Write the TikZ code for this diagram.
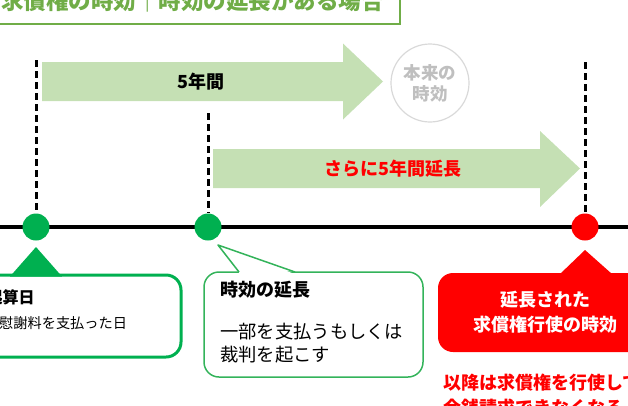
\documentclass[tikz,border=0pt]{standalone}
\usepackage{fontspec}
\setmainfont{Noto Sans CJK JP}
\definecolor{titlegreen}{HTML}{70AD47}
\definecolor{spangreen}{HTML}{C5E0B4}
\definecolor{dotgreen}{HTML}{00B050}
\definecolor{boxgreen}{HTML}{33B35A}
\definecolor{ringgray}{HTML}{D9D9D9}
\definecolor{textgray}{HTML}{BFBFBF}
\definecolor{alertred}{HTML}{FF0000}
\begin{document}
\begin{tikzpicture}[x=1pt,y=-1pt,
  dot/.style={circle,fill,inner sep=0pt,minimum size=27pt},
  guide/.style={draw,line width=3pt,dash pattern=on 7pt off 4pt},
  txt/.style={inner sep=0pt,anchor=west}]
\useasboundingbox (0,0) rectangle (628,405);
\clip (0,0) rectangle (628,405);

% title
\draw[titlegreen,line width=2pt] (-20,-30) rectangle (400,24);
\node[inner sep=0pt,anchor=base east,text=titlegreen,font=\fontsize{22.5}{26}\selectfont\bfseries] (title) at (384,9) {求償権の時効｜時効の延長がある場合};

% periods
\fill[spangreen] (42,62) -- (343,62) -- (343,43.5) -- (383,81.5) -- (343,119.5) -- (343,101) -- (42,101) -- cycle;
\node[font=\fontsize{18}{22}\selectfont\bfseries] (five) at (201,82) {5年間};
\fill[spangreen] (213,149) -- (540,149) -- (540,131) -- (580,168.5) -- (540,207) -- (540,188) -- (213,188) -- cycle;
\node[text=alertred,font=\fontsize{18}{22}\selectfont\bfseries] (extra) at (393,169) {さらに5年間延長};
\node[draw=ringgray,line width=1.2pt,circle,inner sep=0pt,minimum size=78pt,align=center,text=textgray,font=\fontsize{17.5}{21}\selectfont\bfseries] (orig) at (430,83) {本来の\\時効};

% timeline
\coordinate (lineL) at (0,227);
\coordinate (lineR) at (628,227);
\path[draw,line width=3.5pt] (lineL) -- (lineR);

\node[dot,dotgreen] (start) at (36,227) {};
\node[dot,dotgreen] (renew) at (208,227) {};
\node[dot,alertred] (expiry) at (585,227) {};

\coordinate (startTop) at (36,60);
\coordinate (renewTop) at (208,113);
\coordinate (expiryTop) at (585,62);
\path[guide] (startTop) -- (start);
\path[guide] (renewTop) -- (renew);
\path[guide] (expiryTop) -- (expiry);

% start box
\node[draw=dotgreen,line width=3pt,rounded corners=15pt,fill=white,minimum width=211pt,minimum height=82pt] (startbox) at (75.5,316) {};
\fill[dotgreen] (36,247) -- (62,276.5) -- (10,276.5) -- cycle;
\node[txt,font=\fontsize{16}{20}\selectfont\bfseries] (startlabel) at (-13.5,297) {起算日};
\node[txt,font=\fontsize{14.2}{18}\selectfont] (startnote) at (-1,323) {慰謝料を支払った日};

% renewal box
\node[draw=boxgreen,line width=1.5pt,rounded corners=15pt,minimum width=219pt,minimum height=105pt] (renewbox) at (313.5,324.5) {};
\fill[white] (218,245) -- (240,273.8) -- (294,273.8) -- cycle;
\draw[boxgreen,line width=1.5pt,line join=round] (239,272) -- (218,245) -- (295,272);
\node[txt,font=\fontsize{18}{22}\selectfont\bfseries] (renewlabel) at (220,290) {時効の延長};
\node[txt,font=\fontsize{18.3}{22}\selectfont] (renewnote1) at (220,332) {一部を支払うもしくは};
\node[txt,font=\fontsize{18.3}{22}\selectfont] (renewnote2) at (220,355) {裁判を起こす};

% expiry box
\node[fill=alertred,rounded corners=15pt,minimum width=214pt,minimum height=79pt] (expirybox) at (545,312.5) {};
\fill[alertred] (585,250) -- (612,274) -- (560,274) -- cycle;
\node[align=center,text=white,inner sep=0pt,font=\fontsize{18}{25}\selectfont\bfseries] (expirylabel) at (545,312.5) {延長された\\求償権行使の時効};
\node[txt,text=alertred,font=\fontsize{18}{22}\selectfont\bfseries] (after1) at (443,383) {以降は求償権を行使して};
\node[txt,text=alertred,font=\fontsize{18}{22}\selectfont\bfseries] (after2) at (443,408) {金銭請求できなくなる};
\end{tikzpicture}
\end{document}
